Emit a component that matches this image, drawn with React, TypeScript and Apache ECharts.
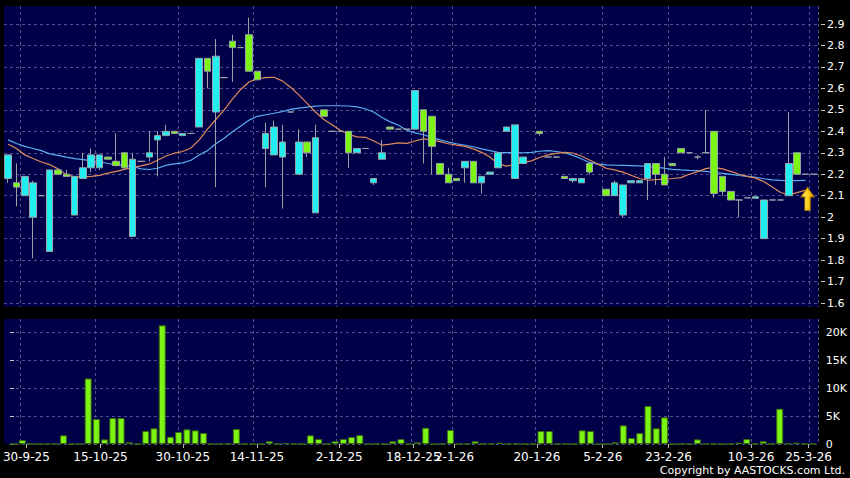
import React, { useEffect, useRef } from 'react';
import * as echarts from 'echarts';

// ---- data ----
const tickIndex = [2, 11, 21, 30, 40, 49, 54, 64, 72, 80, 90, 97];
const tickLabels = ['30-9-25', '15-10-25', '30-10-25', '14-11-25', '2-12-25', '18-12-25', '2-1-26', '20-1-26', '5-2-26', '23-2-26', '10-3-26', '25-3-26'];

const openP = [
  2.18, 2.16, 2.10, 2.00, 2.10, 1.84, 2.22, 2.20, 2.01, 2.18,
  2.23, 2.23, 2.28, 2.26, 2.30, 1.91, 2.26, 2.28, 2.36, 2.38,
  2.40, 2.38, 2.39, 2.42, 2.74, 2.49, 2.65, 2.82, 2.79, 2.85,
  2.68, 2.32, 2.29, 2.28, 2.49, 2.20, 2.35, 2.02, 2.50, 2.40,
  2.40, 2.40, 2.30, 2.32, 2.16, 2.27, 2.42, 2.41, 2.41, 2.41,
  2.50, 2.47, 2.25, 2.20, 2.18, 2.23, 2.26, 2.16, 2.20, 2.23,
  2.40, 2.18, 2.25, null, 2.40, 2.28, 2.28, 2.19, 2.17, 2.16,
  2.25, null, 2.13, 2.10, 2.01, 2.16, 2.16, 2.18, 2.25, 2.20,
  2.25, 2.32, 2.30, 2.28, 2.30, 2.40, 2.19, 2.12, 2.08, 2.09,
  2.088, 1.90, 2.08, 2.08, 2.10, 2.30, 2.20, 2.20,
];
const closeP = [
  2.29, 2.14, 2.19, 2.16, 2.10, 2.22, 2.20, 2.19, 2.19, 2.23,
  2.29, 2.29, 2.27, 2.24, 2.23, 2.27, 2.26, 2.30, 2.38, 2.40,
  2.39, 2.39, 2.39, 2.74, 2.68, 2.75, 2.65, 2.79, 2.79, 2.68,
  2.64, 2.39, 2.42, 2.35, 2.49, 2.35, 2.30, 2.37, 2.47, 2.40,
  2.40, 2.30, 2.32, 2.32, 2.18, 2.30, 2.41, 2.41, 2.41, 2.59,
  2.40, 2.33, 2.20, 2.16, 2.17, 2.26, 2.16, 2.19, 2.21, 2.30,
  2.42, 2.43, 2.28, null, 2.39, 2.28, 2.28, 2.18, 2.18, 2.18,
  2.21, null, 2.10, 2.16, 2.15, 2.17, 2.17, 2.25, 2.20, 2.15,
  2.24, 2.30, 2.30, 2.28, 2.30, 2.11, 2.12, 2.08, 2.08, 2.09,
  2.095, 2.08, 2.08, 2.08, 2.25, 2.20, 2.20, 2.20,
];
const lowP = [
  2.16, 2.05, 2.10, 1.81, 2.10, 1.84, 2.20, 2.19, 2.01, 2.18,
  2.21, 2.22, 2.27, 2.24, 2.22, 1.91, 2.26, 2.26, 2.19, 2.38,
  2.39, 2.38, 2.39, 2.42, 2.60, 2.14, 2.65, 2.63, 2.79, 2.68,
  2.64, 2.14, 2.29, 2.04, 2.49, 2.20, 2.28, 2.02, 2.47, 2.40,
  2.40, 2.23, 2.30, 2.32, 2.15, 2.27, 2.41, 2.41, 2.41, 2.41,
  2.25, 2.20, 2.20, 2.16, 2.17, 2.16, 2.16, 2.11, 2.20, 2.23,
  2.40, 2.18, 2.25, null, 2.38, 2.28, 2.28, 2.18, 2.16, 2.16,
  2.20, null, 2.10, 2.10, 2.00, 2.16, 2.16, 2.08, 2.15, 2.15,
  2.24, 2.30, 2.30, 2.27, 2.30, 2.09, 2.10, 2.08, 2.00, 2.09,
  2.088, 1.90, 2.08, 2.08, 2.10, 2.20, 2.20, 2.20,
];
const highP = [
  2.29, 2.25, 2.19, 2.17, 2.10, 2.22, 2.22, 2.22, 2.19, 2.30,
  2.32, 2.29, 2.28, 2.39, 2.30, 2.30, 2.26, 2.40, 2.40, 2.43,
  2.40, 2.39, 2.39, 2.74, 2.74, 2.83, 2.65, 2.85, 2.79, 2.93,
  2.68, 2.44, 2.45, 2.43, 2.49, 2.41, 2.35, 2.43, 2.50, 2.40,
  2.40, 2.40, 2.32, 2.32, 2.18, 2.36, 2.42, 2.41, 2.41, 2.59,
  2.50, 2.47, 2.25, 2.23, 2.18, 2.26, 2.26, 2.19, 2.21, 2.30,
  2.42, 2.43, 2.28, null, 2.40, 2.28, 2.28, 2.19, 2.18, 2.18,
  2.25, null, 2.13, 2.17, 2.15, 2.17, 2.17, 2.25, 2.25, 2.28,
  2.25, 2.32, 2.30, 2.29, 2.50, 2.40, 2.19, 2.12, 2.08, 2.09,
  2.095, 2.08, 2.08, 2.08, 2.49, 2.30, 2.20, 2.20,
];
const volume = [
  0, 700, 0, 0, 0, 0, 1550, 0, 0, 11700,
  4460, 830, 4640, 4640, 300, 0, 2320, 2800, 21200, 1300,
  2140, 2620, 2440, 1960, 0, 0, 0, 2680, 0, 0,
  0, 480, 0, 150, 0, 0, 1550, 890, 0, 480,
  890, 1250, 1600, 0, 0, 0, 480, 890, 0, 300,
  2900, 0, 0, 2500, 0, 0, 480, 0, 0, 240,
  0, 0, 0, 0, 2320, 2320, 0, 0, 0, 2440,
  2320, 0, 0, 300, 3330, 1070, 1960, 6790, 2800, 4760,
  0, 0, 0, 830, 0, 0, 0, 0, 240, 890,
  0, 480, 0, 6300, 100, 240, 0, 0,
];
const maShort = [
  2.34, 2.32, 2.29, 2.273, 2.257, 2.245, 2.225, 2.198, 2.188, 2.188,
  2.19, 2.195, 2.205, 2.213, 2.223, 2.232, 2.239, 2.248, 2.265, 2.285,
  2.298, 2.306, 2.322, 2.36, 2.41, 2.455, 2.5, 2.55, 2.595, 2.63,
  2.645, 2.65, 2.652, 2.635, 2.605, 2.57, 2.53, 2.49, 2.455, 2.43,
  2.405, 2.385, 2.374, 2.372, 2.355, 2.336, 2.34, 2.346, 2.344, 2.355,
  2.365, 2.36, 2.352, 2.342, 2.336, 2.33, 2.318, 2.302, 2.28, 2.248,
  2.238, 2.245, 2.255, 2.262, 2.278, 2.29, 2.297, 2.302, 2.299, 2.285,
  2.266, 2.247, 2.228, 2.22, 2.21, 2.195, 2.18, 2.172, 2.175, 2.177,
  2.18, 2.184, 2.2, 2.212, 2.226, 2.232, 2.225, 2.213, 2.2, 2.19,
  2.182, 2.165, 2.14, 2.115, 2.104, 2.114, 2.126, null,
];
const maLong = [
  2.36, 2.343, 2.33, 2.32, 2.31, 2.295, 2.288, 2.28, 2.273, 2.268,
  2.263, 2.258, 2.25, 2.245, 2.241, 2.236, 2.225, 2.222, 2.228, 2.241,
  2.248, 2.253, 2.265, 2.29, 2.31, 2.342, 2.368, 2.398, 2.425, 2.452,
  2.47, 2.477, 2.484, 2.492, 2.502, 2.508, 2.513, 2.517, 2.519, 2.519,
  2.519, 2.518, 2.514, 2.505, 2.49, 2.464, 2.444, 2.428, 2.405, 2.393,
  2.384, 2.372, 2.36, 2.35, 2.342, 2.335, 2.328, 2.318, 2.31, 2.302,
  2.301, 2.301, 2.3, 2.302, 2.307, 2.31, 2.306, 2.3, 2.288, 2.272,
  2.255, 2.247, 2.244, 2.242, 2.241, 2.24, 2.239, 2.236, 2.232, 2.228,
  2.223, 2.22, 2.218, 2.217, 2.213, 2.208, 2.204, 2.199, 2.194, 2.19,
  2.186, 2.179, 2.174, 2.171, 2.17, 2.17, 2.171, null,
];
const arrowMark = { index: 96, price: 2.085 };

// ---- styling ----
const NAVY = '#000048';
const GRIDLINE = '#50508e';
const CYAN = '#22eef2';
const GREEN = '#7cf414';
const WICK = '#9aa4a8';
const FONT = 'DejaVu Sans';

const N = openP.length;
const categories = openP.map((_, i) => String(i));
const isTick = (i: number) => tickIndex.indexOf(i) >= 0;
const labelFor = (i: number) => {
  const k = tickIndex.indexOf(Math.round(i));
  return k >= 0 ? tickLabels[k] : '';
};

const candleData = openP.map((o, i) =>
  o == null ? '-' : [o, closeP[i], lowP[i], highP[i]]
);

function buildOption(): echarts.EChartsOption {
  const dashed = { color: GRIDLINE, type: [3, 3] as number[], width: 1 };
  const helperX = (gridIndex: number) => ({
    type: 'category' as const,
    gridIndex,
    data: categories,
    boundaryGap: true,
    axisLine: { show: false },
    axisTick: { show: false },
    axisLabel: { show: false },
    splitLine: { show: true, interval: (i: number) => isTick(i), lineStyle: dashed },
  });
  return {
    animation: false,
    backgroundColor: '#000000',
    textStyle: { fontFamily: FONT },
    grid: [
      { left: 4, right: 32, top: 6, height: 301, show: true, backgroundColor: NAVY, borderWidth: 0 },
      { left: 4, right: 32, top: 24, height: 279 },
      { left: 4, right: 32, top: 319, height: 125, show: true, backgroundColor: NAVY, borderWidth: 0 },
      { left: 4, right: 32, top: 332, height: 112 },
    ],
    xAxis: [
      helperX(0),
      { type: 'category', gridIndex: 1, data: categories, boundaryGap: true, show: false },
      helperX(2),
      { type: 'category', gridIndex: 3, data: categories, boundaryGap: true, show: false },
      {
        // date labels, placed on the band boundaries (value k = left edge of day k)
        type: 'value',
        gridIndex: 3,
        position: 'bottom',
        min: 0,
        max: N,
        axisLine: { show: false },
        splitLine: { show: false },
        axisTick: { show: true, customValues: tickIndex, length: 4, lineStyle: { color: '#b8b8b8' } },
        axisLabel: {
          show: true,
          customValues: tickIndex,
          formatter: (v: number) => labelFor(v),
          color: '#ffffff',
          fontSize: 12,
          fontFamily: FONT,
          margin: 7,
          showMinLabel: true,
          showMaxLabel: true,
          hideOverlap: false,
        },
      } as any,
    ],
    yAxis: [
      { type: 'value', gridIndex: 0, min: 0, max: 1, show: false },
      {
        type: 'value',
        gridIndex: 1,
        position: 'right',
        min: 1.6,
        max: 2.9,
        interval: 0.1,
        offset: 3,
        axisLine: { show: false },
        axisTick: { show: true, length: 4, lineStyle: { color: '#c8c8c8' } },
        axisLabel: {
          color: '#ffffff',
          fontSize: 11,
          fontFamily: FONT,
          margin: 6,
          formatter: (v: number) => String(Math.round(v * 10) / 10),
        },
        splitLine: { show: true, lineStyle: dashed },
      },
      { type: 'value', gridIndex: 2, min: 0, max: 1, show: false },
      {
        type: 'value',
        gridIndex: 3,
        position: 'right',
        min: 0,
        max: 20000,
        interval: 5000,
        offset: 3,
        axisLine: { show: false },
        axisTick: { show: true, length: 4, lineStyle: { color: '#c8c8c8' } },
        axisLabel: {
          color: '#ffffff',
          fontSize: 11,
          fontFamily: FONT,
          margin: 6,
          formatter: (v: number) => (v === 0 ? '0' : `${v / 1000}K`),
        },
        splitLine: { show: true, lineStyle: dashed },
      },
    ],
    series: [
      {
        name: 'MA long',
        type: 'line',
        xAxisIndex: 1,
        yAxisIndex: 1,
        data: maLong,
        symbol: 'none',
        lineStyle: { color: '#58aef2', width: 1.2 },
        z: 2,
      },
      {
        name: 'MA short',
        type: 'line',
        xAxisIndex: 1,
        yAxisIndex: 1,
        data: maShort,
        symbol: 'none',
        lineStyle: { color: '#e08a5a', width: 1.2 },
        z: 2,
      },
      {
        name: 'Price',
        type: 'candlestick',
        xAxisIndex: 1,
        yAxisIndex: 1,
        data: candleData as any,
        barWidth: 7,
        clip: false,
        itemStyle: {
          color: CYAN,
          color0: GREEN,
          borderColor: WICK,
          borderColor0: WICK,
          borderColorDoji: WICK,
          borderWidth: 1,
        },
        markPoint: {
          symbol: 'path://M6,0 L12,7 L8.5,7 L8.5,17 L3.5,17 L3.5,7 L0,7 Z',
          symbolSize: [13, 23],
          symbolOffset: [2, 0],
          label: { show: false },
          itemStyle: {
            color: new echarts.graphic.LinearGradient(0, 0, 1, 0, [
              { offset: 0, color: '#fff6a0' },
              { offset: 0.5, color: '#ffd21a' },
              { offset: 1, color: '#e0a000' },
            ]),
            borderColor: '#b07800',
            borderWidth: 1,
          },
          data: [{ coord: [String(arrowMark.index), arrowMark.price] }],
        },
        z: 3,
      },
      {
        name: 'Volume',
        type: 'bar',
        xAxisIndex: 3,
        yAxisIndex: 3,
        data: volume,
        barWidth: 7,
        clip: false,
        itemStyle: { color: GREEN, borderColor: '#3a6a10', borderWidth: 1 },
      },
    ],
    graphic: [
      {
        type: 'text',
        right: 5,
        top: 465,
        style: { text: 'Copyright by AASTOCKS.com Ltd.', fill: '#ffffff', font: `11px "${FONT}"` },
      },
    ],
  } as echarts.EChartsOption;
}

export default function App() {
  const ref = useRef<HTMLDivElement>(null);
  useEffect(() => {
    if (!ref.current) return;
    const chart = echarts.init(ref.current, undefined, { renderer: 'svg' });
    chart.setOption(buildOption());
    return () => chart.dispose();
  }, []);
  return (
    <div
      ref={ref}
      style={{ position: 'fixed', left: 0, top: 0, width: 850, height: 478, background: '#000' }}
    />
  );
}
